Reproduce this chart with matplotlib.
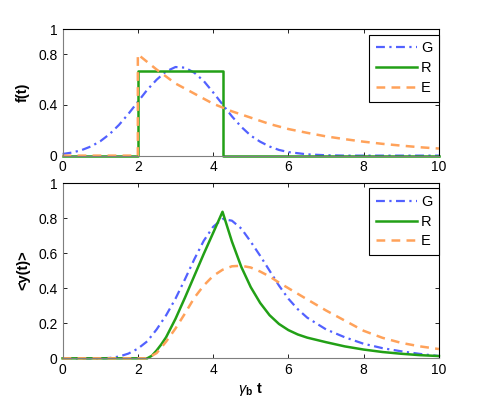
import matplotlib
matplotlib.use('Agg')
import matplotlib.pyplot as plt

plt.rcParams['font.family'] = ['Liberation Sans', 'DejaVu Sans']
plt.rcParams['mathtext.fontset'] = 'custom'
plt.rcParams['mathtext.rm'] = 'Liberation Sans'
plt.rcParams['mathtext.it'] = 'Liberation Sans:italic'
plt.rcParams['mathtext.bf'] = 'Liberation Sans:bold'

# top panel: f(t)
t_G = [0, 0.25, 0.5, 0.75, 1, 1.25, 1.5, 1.75, 2, 2.25, 2.5, 2.75, 3, 3.25,
       3.5, 3.75, 4, 4.25, 4.5, 4.75, 5, 5.25, 5.5, 5.75, 6, 6.5, 7, 7.5, 10]
f_G = [0.013, 0.024, 0.043, 0.072, 0.113, 0.17, 0.243, 0.33, 0.425, 0.52,
       0.60, 0.665, 0.70, 0.695, 0.655, 0.59, 0.50, 0.405, 0.31, 0.227,
       0.158, 0.11, 0.072, 0.045, 0.028, 0.01, 0.003, 0, 0]

t_R = [0, 2, 2, 4.27, 4.27, 10]
f_R = [0, 0, 0.667, 0.667, 0, 0]

t_E = [0, 2, 2, 2.5, 3, 3.5, 4, 4.5, 5, 5.5, 6, 6.5, 7, 7.5, 8, 8.5, 9, 9.5, 10]
f_E = [0, 0, 0.80, 0.68, 0.57, 0.49, 0.41, 0.35, 0.30, 0.25, 0.21, 0.18,
       0.152, 0.13, 0.11, 0.093, 0.079, 0.066, 0.056]

# bottom panel: <y(t)>
t_yG = [0, 1.0, 1.25, 1.5, 1.75, 2.0, 2.25, 2.5, 2.75, 3.0, 3.25, 3.5, 3.75,
        4.0, 4.25, 4.5, 4.75, 5.0, 5.25, 5.5, 5.75, 6.0, 6.25, 6.5, 7.0,
        7.5, 8.0, 8.5, 9.0, 9.5, 10]
y_G = [0, 0, 0.002, 0.01, 0.027, 0.055, 0.097, 0.165, 0.245, 0.34, 0.45,
       0.565, 0.67, 0.75, 0.795, 0.785, 0.74, 0.665, 0.585, 0.50, 0.415,
       0.34, 0.28, 0.232, 0.165, 0.12, 0.083, 0.058, 0.04, 0.025, 0.013]

t_yR = [0, 2.25, 2.375, 2.5, 2.625, 2.75, 3.0, 3.25, 3.5, 3.75, 4.0, 4.25,
        4.5, 4.75, 5.0, 5.25, 5.5, 5.75, 6.0, 6.25, 6.5, 7.0, 7.5, 8.0, 8.5,
        9.0, 9.5, 10]
y_R = [0, 0, 0.015, 0.045, 0.08, 0.12, 0.225, 0.345, 0.47, 0.595, 0.715,
       0.836, 0.666, 0.521, 0.406, 0.316, 0.246, 0.196, 0.161, 0.136, 0.118,
       0.092, 0.068, 0.05, 0.036, 0.026, 0.018, 0.013]

t_yE = [0, 2.25, 2.5, 2.75, 3.0, 3.25, 3.5, 3.75, 4.0, 4.25, 4.5, 4.75, 5.0,
        5.25, 5.5, 5.75, 6.0, 6.5, 7.0, 7.5, 8.0, 8.5, 9.0, 9.5, 10]
y_E = [0, 0, 0.03, 0.095, 0.17, 0.255, 0.345, 0.415, 0.47, 0.505, 0.525,
       0.528, 0.518, 0.495, 0.467, 0.432, 0.40, 0.336, 0.273, 0.215, 0.157,
       0.117, 0.088, 0.068, 0.053]

labels = ['G', 'R', 'E']
colors = ['#5261ff', '#22a016', '#ffa25a']

fig = plt.figure(figsize=(4.85, 3.98), dpi=100)
ax1 = fig.add_axes([0.129, 0.609, 0.776, 0.318])
ax2 = fig.add_axes([0.129, 0.0997, 0.776, 0.4405])


def draw(ax, xs, ys, leg_top):
    ax.plot(xs[0], ys[0], color=colors[0], lw=1.6, dashes=(4, 2, 1, 2),
            label=labels[0], clip_on=False)
    ax.plot(xs[1], ys[1], color=colors[1], lw=1.8, label=labels[1],
            clip_on=False)
    ax.plot(xs[2], ys[2], color=colors[2], lw=1.8, dashes=(3.5, 2.5),
            label=labels[2], clip_on=False)
    ax.set_xlim(0, 10)
    ax.set_xticks(range(0, 11, 2))
    ax.set_xticklabels(['0', '2', '4', '6', '8', '10'])
    ax.tick_params(direction='in', top=True, right=True, labelsize=10,
                   length=3, width=0.6)
    for s in ['top', 'right']:
        ax.spines[s].set_color('black')
        ax.spines[s].set_linewidth(0.8)
    for s in ['left', 'bottom']:
        ax.spines[s].set_color('#7f7f7f')
        ax.spines[s].set_linewidth(0.8)
    leg = ax.legend(loc='upper right', fontsize=10.5, handlelength=2.8,
                    borderaxespad=0, bbox_to_anchor=(1.0, leg_top),
                    fancybox=False, framealpha=1, edgecolor='black',
                    borderpad=0.45, labelspacing=0.4, handletextpad=0.3)
    leg.get_frame().set_linewidth(0.8)


draw(ax1, [t_G, t_R, t_E], [f_G, f_R, f_E], 0.955)
ax1.set_ylim(0, 1)
ax1.set_yticks([0, 0.4, 0.8, 1])
ax1.set_yticklabels(['0', '0.4', '0.8', '1'])
ax1.set_ylabel('f(t)', fontsize=10.5, fontweight='bold', labelpad=6)

draw(ax2, [t_yG, t_yR, t_yE], [y_G, y_R, y_E], 0.97)
ax2.set_ylim(0, 1)
ax2.set_yticks([0, 0.2, 0.4, 0.6, 0.8, 1])
ax2.set_yticklabels(['0', '0.2', '0.4', '0.6', '0.8', '1'])
ax2.set_ylabel('<y(t)>', fontsize=10.5, fontweight='bold', labelpad=6)
ax2.set_xlabel(r'$\gamma_\mathbf{b}$ t', fontsize=10.5, fontweight='bold',
               labelpad=3)

fig.savefig('out.png', dpi=100)
